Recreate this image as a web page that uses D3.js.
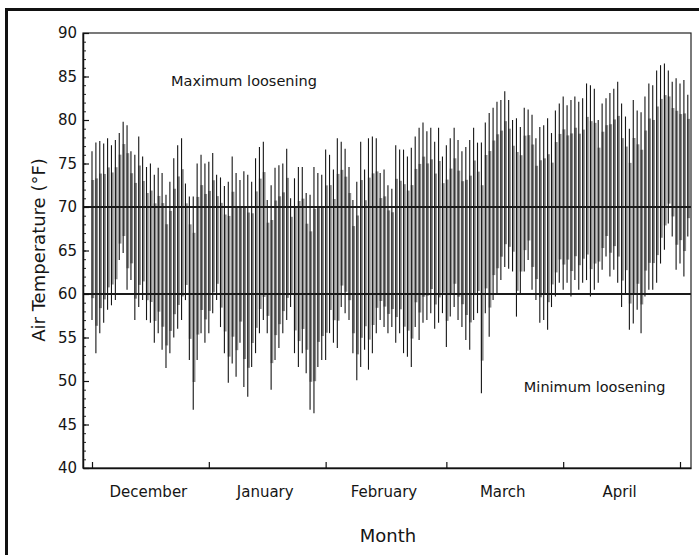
<!DOCTYPE html>
<html>
<head>
<meta charset="utf-8">
<script src="https://cdn.jsdelivr.net/npm/d3@7"></script>
<style>
  body { margin: 0; background: #fff; }
  svg { display: block; }
  text { font-family: "DejaVu Sans", sans-serif; fill: #151515; }
</style>
</head>
<body>
<div id="wrapper"></div>
<script>
// DATA: daily air temperature (°F), one value per day starting 1 December
const maxTemp = [
  76.4, 77.4, 77.6, 77.3, 77.9, 77.1, 77.7, 78.5, 79.8, 79.4,
  76.4, 76.0, 78.1, 75.8, 74.6, 75.0, 73.7, 74.5, 73.9, 71.4,
  72.9, 75.6, 77.1, 77.9, 72.7, 71.2, 71.2, 75.0, 76.0, 75.0,
  75.2, 76.2, 73.7, 73.4, 72.4, 72.9, 75.8, 73.9,
  73.1, 74.1, 73.7, 72.9, 75.6, 76.9, 77.5, 70.8, 72.5, 74.5,
  74.8, 75.0, 76.7, 71.0, 73.3, 74.6, 74.6, 71.6, 71.4, 74.6,
  73.9, 73.7, 76.6, 76.0, 74.3, 77.9, 77.5, 76.7, 74.6, 70.8,
  72.9, 77.5, 74.3, 77.9, 78.1, 77.9, 73.9, 74.3, 72.5, 72.1,
  77.1, 76.6, 76.6, 75.8, 76.8, 78.1, 79.1, 79.7, 78.7, 79.1,
  77.5, 79.1, 75.8, 77.1, 77.9, 79.1, 77.7, 76.4, 76.9, 77.7,
  79.1, 77.4, 77.4, 79.7, 80.8, 81.4, 82.1, 82.3, 83.3, 82.3,
  80.0, 80.2, 79.2, 81.4, 81.2, 80.6, 77.9, 79.2, 79.4,
  80.2, 78.5, 81.1, 81.9, 82.7, 81.7, 82.3, 82.7, 82.1, 82.5,
  84.2, 84.0, 83.6, 80.0, 81.9, 82.5, 83.1, 83.6, 84.4, 81.9,
  80.4, 79.0, 82.3, 81.1, 80.9, 82.7, 84.2, 84.0, 85.7, 86.3,
  86.5, 85.7, 84.4, 84.8, 84.2, 84.6, 82.9
];
const minTemp = [
  57.0, 53.2, 55.5, 56.7, 58.2, 58.7, 59.3, 63.9, 64.7, 60.5,
  61.6, 57.0, 58.5, 59.3, 57.0, 56.7, 54.4, 55.5, 53.6, 51.5,
  53.2, 55.0, 56.0, 57.0, 59.3, 52.4, 46.7, 52.4, 55.5, 54.4,
  55.5, 57.8, 59.3, 56.2, 53.2, 49.8, 52.0, 50.5,
  54.4, 49.3, 48.2, 51.6, 53.2, 55.5, 57.0, 55.5, 49.0, 52.4,
  53.8, 55.5, 57.0, 58.5, 53.2, 51.6, 53.2, 50.9, 46.7, 46.3,
  51.6, 52.4, 52.4, 55.5, 54.4, 53.8, 58.5, 57.8, 57.0, 53.2,
  50.1, 51.6, 53.6, 51.3, 53.2, 55.5, 57.0, 56.2, 55.5, 56.2,
  54.4, 55.5, 53.2, 52.8, 51.6, 56.2, 54.7, 56.7, 57.0, 57.8,
  56.0, 56.7, 57.8, 53.9, 57.4, 58.5, 57.0, 56.2, 54.7, 53.6,
  57.0, 57.8, 48.6, 57.8, 55.1, 59.3, 60.1, 61.6, 63.1, 62.9,
  62.6, 57.4, 60.1, 62.6, 63.9, 60.5, 59.3, 56.7, 57.0,
  55.9, 58.5, 59.7, 61.3, 60.5, 61.3, 59.7, 61.6, 60.5, 61.3,
  61.6, 59.7, 60.5, 61.3, 62.8, 64.3, 62.0, 62.8, 61.3, 58.5,
  60.1, 55.9, 56.6, 58.2, 55.5, 59.7, 60.5, 60.5, 61.3, 63.5,
  65.1, 68.1, 66.6, 62.8, 63.5, 62.0, 66.6
];
const months = ["December", "January", "February", "March", "April"];
const monthTicks = [0, 30, 60, 91, 121, 151]; // day index of each month tick
const yTicks = [40, 45, 50, 55, 60, 65, 70, 75, 80, 85, 90];
const thresholds = [70, 60];
const notes = ["Maximum loosening", "Minimum loosening"];

// DIMENSIONS
const dimensions = {
  width: 699,
  height: 555,
  margin: { top: 33, right: 8, bottom: 87, left: 83 },
};
dimensions.boundedWidth = dimensions.width - dimensions.margin.left - dimensions.margin.right;
dimensions.boundedHeight = dimensions.height - dimensions.margin.top - dimensions.margin.bottom;

const wrapper = d3.select("#wrapper")
  .append("svg")
  .attr("width", dimensions.width)
  .attr("height", dimensions.height);

wrapper.append("rect")
  .attr("width", dimensions.width)
  .attr("height", dimensions.height)
  .attr("fill", "#fff");

// scanned page frame (top and left edges)
wrapper.append("line")
  .attr("x1", 5).attr("x2", dimensions.width)
  .attr("y1", 9.5).attr("y2", 9.5)
  .attr("stroke", "#111").attr("stroke-width", 3);
wrapper.append("line")
  .attr("x1", 6.5).attr("x2", 6.5)
  .attr("y1", 8).attr("y2", dimensions.height)
  .attr("stroke", "#111").attr("stroke-width", 3);

const bounds = wrapper.append("g")
  .attr("transform", `translate(${dimensions.margin.left},${dimensions.margin.top})`);

// SCALES
const pxPerDay = 588 / 151;
const xScale = d3.scaleLinear()
  .domain([-9 / pxPerDay, (dimensions.boundedWidth - 9) / pxPerDay])
  .range([0, dimensions.boundedWidth]);
const yScale = d3.scaleLinear()
  .domain([40, 90])
  .range([dimensions.boundedHeight, 0]);

const days = maxTemp.map((hi, i) => ({ day: i, hi, lo: minTemp[i] }));
const coreTop = (d) => d.hi - 0.17 * (d.hi - d.lo);
const coreBottom = (d) => d.lo + 0.13 * (d.hi - d.lo);

// grey body of the daily cycle
bounds.append("g")
  .selectAll("rect")
  .data(days)
  .join("rect")
  .attr("x", (d) => xScale(d.day) - 0.6)
  .attr("width", xScale(1) - xScale(0) - 1.1)
  .attr("y", (d) => yScale(coreTop(d)))
  .attr("height", (d) => yScale(coreBottom(d)) - yScale(coreTop(d)))
  .attr("fill", "#8a8a8a");

// daily max-min strokes
bounds.append("g")
  .selectAll("line")
  .data(days)
  .join("line")
  .attr("x1", (d) => xScale(d.day))
  .attr("x2", (d) => xScale(d.day))
  .attr("y1", (d) => yScale(d.hi))
  .attr("y2", (d) => yScale(d.lo))
  .attr("stroke", "#161616")
  .attr("stroke-width", 1.1);

// loosening thresholds
bounds.append("g")
  .selectAll("line")
  .data(thresholds)
  .join("line")
  .attr("x1", 0)
  .attr("x2", dimensions.boundedWidth)
  .attr("y1", (d) => yScale(d))
  .attr("y2", (d) => yScale(d))
  .attr("stroke", "#1a1a1a")
  .attr("stroke-width", 2);

// plot frame
bounds.append("rect")
  .attr("width", dimensions.boundedWidth)
  .attr("height", dimensions.boundedHeight)
  .attr("fill", "none")
  .attr("stroke", "#222")
  .attr("stroke-width", 1.2);

// AXES
const yMinor = d3.axisLeft(yScale)
  .tickValues(d3.range(40, 91, 1))
  .tickSize(-3)
  .tickSizeOuter(0)
  .tickFormat("");
bounds.append("g").call(yMinor).call((g) => g.select(".domain").remove())
  .selectAll("line").attr("stroke", "#222");

const yAxis = bounds.append("g")
  .call(d3.axisLeft(yScale).tickValues(yTicks).tickSize(-6).tickSizeOuter(0).tickPadding(6));
yAxis.select(".domain").attr("stroke", "#111").attr("stroke-width", 1.5);
yAxis.selectAll("line").attr("stroke", "#111").attr("stroke-width", 1.2);
yAxis.selectAll("text")
  .attr("font-family", "DejaVu Sans")
  .attr("font-size", 15)
  .attr("fill", "#151515");

const xAxis = bounds.append("g")
  .attr("transform", `translate(0,${dimensions.boundedHeight})`)
  .call(d3.axisBottom(xScale).tickValues(monthTicks).tickSize(-6).tickSizeOuter(0).tickFormat(""));
xAxis.select(".domain").attr("stroke", "#111").attr("stroke-width", 1.5);
xAxis.selectAll("line").attr("stroke", "#111").attr("stroke-width", 1.2);

// month labels between ticks
bounds.append("g")
  .selectAll("text")
  .data(months)
  .join("text")
  .attr("x", (d, i) => xScale((monthTicks[i] + monthTicks[i + 1]) / 2) - 2)
  .attr("y", dimensions.boundedHeight + 29)
  .attr("text-anchor", "middle")
  .attr("font-size", 15)
  .text((d) => d);

// axis titles
wrapper.append("text")
  .attr("x", 388)
  .attr("y", 542)
  .attr("text-anchor", "middle")
  .attr("font-size", 18)
  .text("Month");

wrapper.append("text")
  .attr("transform", "translate(45,250) rotate(-90)")
  .attr("text-anchor", "middle")
  .attr("font-size", 18)
  .text("Air Temperature (°F)");

// annotations
bounds.append("text")
  .attr("x", xScale(20.3))
  .attr("y", yScale(83.9))
  .attr("font-size", 14.5)
  .text(notes[0]);
bounds.append("text")
  .attr("x", xScale(110.9))
  .attr("y", yScale(48.7))
  .attr("font-size", 14.5)
  .text(notes[1]);
</script>
</body>
</html>
